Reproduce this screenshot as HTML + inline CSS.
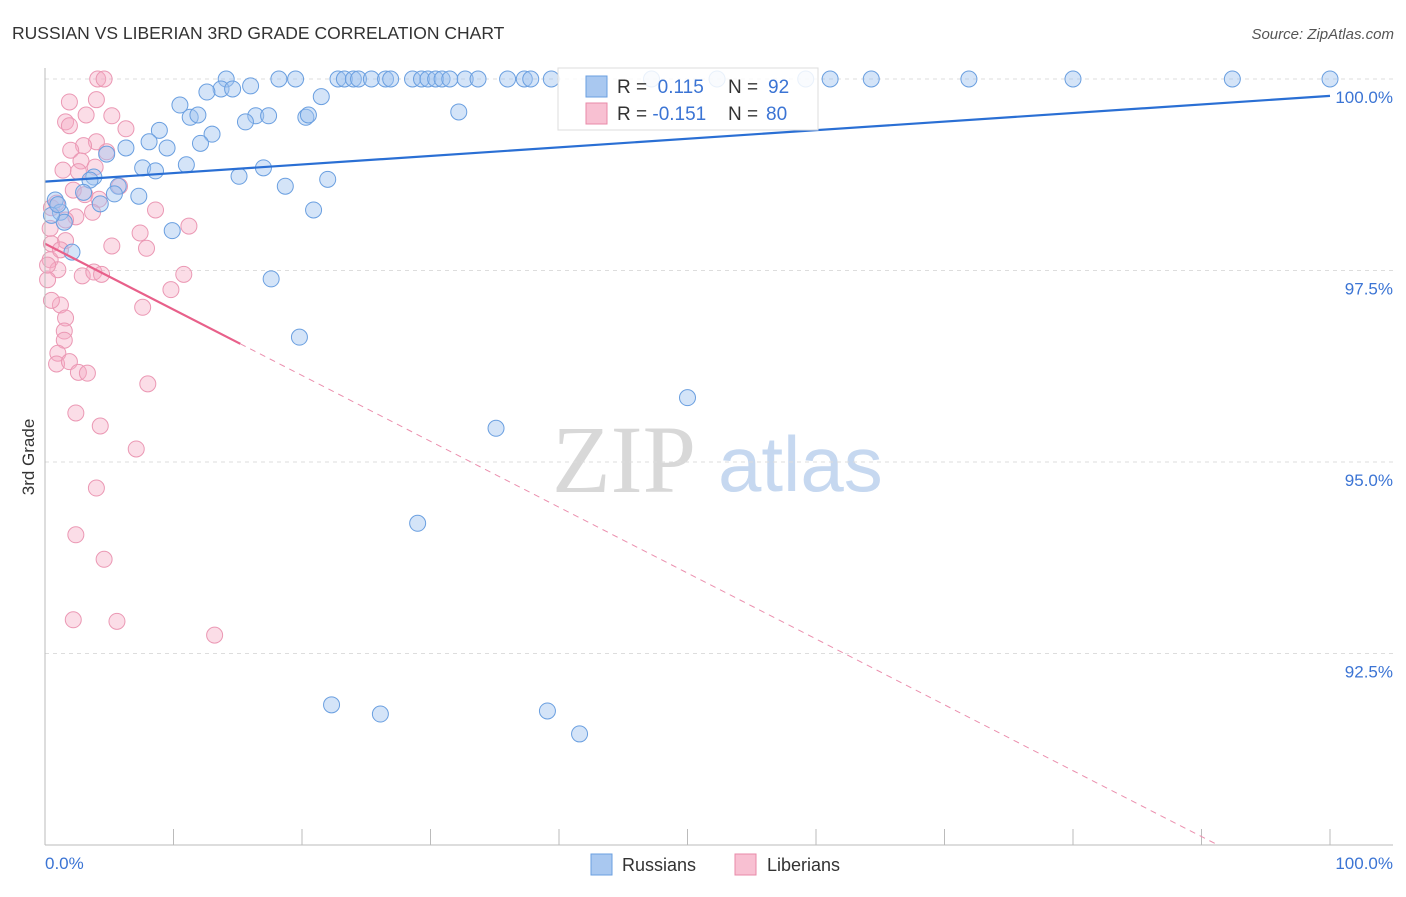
<!DOCTYPE html>
<html><head><meta charset="utf-8"><style>
body{margin:0;background:#fff;font-family:"Liberation Sans",sans-serif;}
#wrap{position:relative;width:1406px;height:892px;}
</style></head><body>
<div id="wrap">
<svg id="svg" width="1406" height="892" xmlns="http://www.w3.org/2000/svg">
<text x="12" y="39" font-size="17.5" fill="#333">RUSSIAN VS LIBERIAN 3RD GRADE CORRELATION CHART</text>
<text x="1394" y="39" font-size="15" fill="#555" text-anchor="end" font-style="italic">Source: ZipAtlas.com</text>
<text x="34" y="457" font-size="17" fill="#333" text-anchor="middle" transform="rotate(-90 34 457)">3rd Grade</text>
<text x="552" y="492" font-size="96" fill="#d8d8d8" font-family="Liberation Serif,serif">ZIP</text>
<text x="718" y="491" font-size="78" fill="#c6d8f0">atlas</text>
<g id="grid"></g><g id="pts"></g><g id="lines"></g>
<line x1="45" y1="68" x2="45" y2="845" stroke="#bbb"/>
<line x1="45" y1="845" x2="1393" y2="845" stroke="#bbb"/>
<text x="45" y="869" font-size="17" fill="#3b74d4">0.0%</text>
<text x="1393" y="869" font-size="17" fill="#3b74d4" text-anchor="end">100.0%</text>
<g>
<rect x="558" y="68" width="260" height="62" fill="#fff" fill-opacity="0.85" stroke="#ddd"/>
<rect x="586" y="76" width="21" height="21" fill="#a9c8f0" stroke="#6a9fe0"/>
<rect x="586" y="103" width="21" height="21" fill="#f8c0d2" stroke="#e88aa8"/>
<text x="617" y="93" font-size="19" fill="#333">R = <tspan fill="#3b74d4">&#160;0.115</tspan><tspan x="728">N = </tspan><tspan fill="#3b74d4" x="768">92</tspan></text>
<text x="617" y="120" font-size="19" fill="#333">R = <tspan fill="#3b74d4">-0.151</tspan><tspan x="728">N = </tspan><tspan fill="#3b74d4" x="766">80</tspan></text>
</g>
<g>
<rect x="591" y="854" width="21" height="21" fill="#a9c8f0" stroke="#6a9fe0"/>
<text x="622" y="871" font-size="18" fill="#333">Russians</text>
<rect x="735" y="854" width="21" height="21" fill="#f8c0d2" stroke="#e88aa8"/>
<text x="767" y="871" font-size="18" fill="#333">Liberians</text>
</g>
</svg></div>
<script>
const yTicks=[100,97.5,95,92.5];
const yTickLabels=["100.0%","97.5%","95.0%","92.5%"];
const xTicks=[0,10,20,30,40,50,60,70,80,90,100];
const rusX=[18.2,19.5,22.8,23.3,24.0,24.4,25.4,26.5,26.9,28.6,29.3,29.8,30.4,30.9,31.5,32.7,33.7,36.0,37.3,37.8,39.4,47.2,52.3,59.2,61.1,64.3,71.9,80.0,92.4,100,14.1,16.0,13.7,12.6,14.6,10.5,21.5,11.3,11.9,16.4,17.4,15.6,20.3,20.5,32.2,8.9,13.0,12.1,8.1,6.3,9.5,4.8,11.0,7.6,8.6,17.0,15.1,22.0,18.7,3.8,3.5,5.7,3.0,5.4,7.3,4.3,0.8,1.2,1.5,20.9,9.9,2.1,17.6,19.8,50.0,35.1,29.0,22.3,26.1,39.1,41.6,0.5,1.0];
const rusY=[100,100,100,100,100,100,100,100,100,100,100,100,100,100,100,100,100,100,100,100,100,100,100,100,100,100,100,100,100,100,100,99.91,99.87,99.83,99.87,99.66,99.77,99.50,99.53,99.52,99.52,99.44,99.50,99.53,99.57,99.33,99.28,99.16,99.18,99.10,99.10,99.02,98.88,98.84,98.80,98.84,98.73,98.69,98.60,98.72,98.68,98.60,98.52,98.50,98.47,98.37,98.42,98.26,98.13,98.29,98.02,97.74,97.39,96.63,95.84,95.44,94.20,91.83,91.71,91.75,91.45,98.22,98.36];
const libX=[4.1,4.6,1.9,4.0,5.2,3.2,1.6,1.9,6.3,4.0,3.0,2.0,4.8,2.8,1.4,3.9,2.6,2.2,3.1,4.2,5.8,8.6,2.4,3.7,0.5,0.9,1.6,0.4,7.4,11.2,5.2,7.9,1.6,0.5,0.4,1.0,0.2,2.9,3.8,4.4,10.8,9.8,7.6,1.2,0.5,1.6,1.5,1.5,1.0,0.9,1.9,2.6,3.3,8.0,2.4,4.3,7.1,4.0,2.4,4.6,2.2,5.6,13.2,0.2,1.2];
const libY=[100,100,99.70,99.73,99.52,99.53,99.44,99.39,99.35,99.18,99.13,99.07,99.05,98.93,98.81,98.85,98.79,98.55,98.49,98.43,98.60,98.29,98.20,98.26,98.32,98.38,98.16,98.05,97.99,98.08,97.82,97.79,97.89,97.85,97.64,97.51,97.38,97.43,97.48,97.45,97.45,97.25,97.02,97.05,97.11,96.88,96.71,96.59,96.42,96.28,96.31,96.17,96.16,96.02,95.64,95.47,95.17,94.66,94.05,93.73,92.94,92.92,92.74,97.57,97.77];
const rusTrend=[98.66,99.78];
const libTrend=[97.85,-0.086];
const X=v=>45+v*12.85, Y=v=>79+(100-v)*76.6;
const NS="http://www.w3.org/2000/svg";
function mk(t,a,p){const e=document.createElementNS(NS,t);for(const k in a)e.setAttribute(k,a[k]);p.appendChild(e);return e;}
const grid=document.getElementById('grid');
yTicks.forEach((v,i)=>{
 const l=mk('line',{x1:45,x2:1393,y1:Y(v),y2:Y(v),stroke:'#ddd','stroke-dasharray':'4,4'},grid);
 
 
 const t=mk('text',{x:1393,y:Y(v)+24,'font-size':17,fill:'#3b74d4','text-anchor':'end'},grid);
 t.textContent=yTickLabels[i];
 
 
});
xTicks.forEach(v=>{
 const l=mk('line',{x1:X(v),x2:X(v),y1:829,y2:845,stroke:'#bbb'},grid);
 
 
});
const pts=document.getElementById('pts');
libX.forEach((x,i)=>{
 const c=mk('circle',{cx:X(x),cy:Y(libY[i]),r:8,fill:'rgba(245,170,195,0.4)',stroke:'#eb98b4','stroke-width':1},pts);
 
 
});
rusX.forEach((x,i)=>{
 const c=mk('circle',{cx:X(x),cy:Y(rusY[i]),r:8,fill:'rgba(160,195,240,0.45)',stroke:'#6a9fe0','stroke-width':1},pts);
 
 
});
const lines=document.getElementById('lines');
const bl=mk('line',{x1:X(0),y1:Y(rusTrend[0]),x2:X(100),y2:Y(rusTrend[1]),stroke:'#2a6fd4','stroke-width':2.2},lines);


const lf=x=>libTrend[0]+libTrend[1]*x;
const pl=mk('line',{x1:X(0),y1:Y(lf(0)),x2:X(15.2),y2:Y(lf(15.2)),stroke:'#e8608a','stroke-width':2.2},lines);


const xe=(90.0-libTrend[0])/libTrend[1];
const pd=mk('line',{x1:X(15.2),y1:Y(lf(15.2)),x2:X(xe),y2:Y(lf(xe)),stroke:'#eb8fae','stroke-width':1,'stroke-dasharray':'6,5'},lines);


</script>
</body></html>
